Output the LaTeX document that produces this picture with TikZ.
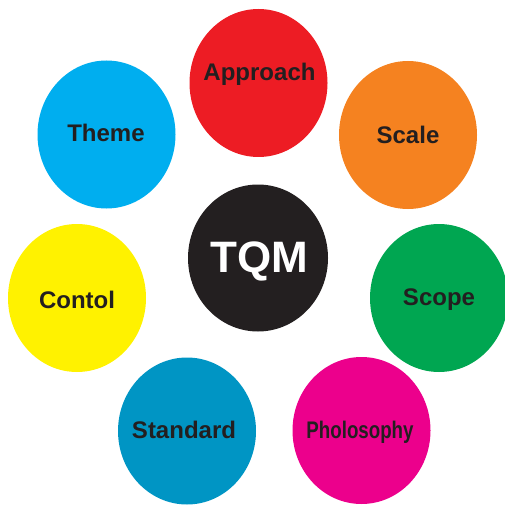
\documentclass[tikz,border=0pt]{standalone}
\usepackage{fontspec}
\setmainfont{Liberation Sans}
\usetikzlibrary{shapes.geometric}
\definecolor{cred}{HTML}{ED1C24}
\definecolor{corange}{HTML}{F58220}
\definecolor{ccyan}{HTML}{00AEEF}
\definecolor{cyel}{HTML}{FFF200}
\definecolor{cgreen}{HTML}{00A651}
\definecolor{cteal}{HTML}{0095C4}
\definecolor{cmag}{HTML}{EC008C}
\definecolor{cblack}{HTML}{231F20}
\tikzset{
  blob/.style={ellipse, draw=none, inner sep=0pt, minimum width=138pt, minimum height=148pt},
  lbl/.style={anchor=base, inner sep=0pt, text=cblack, font=\fontsize{24}{24}\selectfont\bfseries},
}
\begin{document}
\begin{tikzpicture}[x=1pt,y=1pt]
\useasboundingbox (0,0) rectangle (505,504);
\node[blob, fill=cred]    (approach) at (258.5,421) {};
\node[blob, fill=corange] (scale)    at (408,369) {};
\node[blob, fill=ccyan]   (theme)    at (106.5,369.5) {};
\node[blob, fill=cblack, minimum width=140pt, minimum height=147pt] (tqm) at (258,246) {};
\node[blob, fill=cyel]    (contol)   at (77,206) {};
\node[blob, fill=cgreen]  (scope)    at (439,206) {};
\node[blob, fill=cteal, minimum height=147pt] (standard) at (187,73) {};
\node[blob, fill=cmag, minimum height=147pt]  (philo)    at (361.5,73.5) {};
\node[lbl] (approachT) at (259.5,423) {Approach};
\node[lbl] (scaleT)    at (408,360) {Scale};
\node[lbl] (themeT)    at (106,362) {Theme};
\node[lbl] (contolT)   at (77,196) {Contol};
\node[lbl] (scopeT)    at (439,199) {Scope};
\node[lbl] (standardT) at (184,66) {Standard};
\node[lbl] (philoT)    at (360,66) {\scalebox{0.78}[1]{Pholosophy}};
\node[lbl, text=white, font=\fontsize{44}{44}\selectfont\bfseries] (tqmT) at (259,232) {TQM};
\end{tikzpicture}
\end{document}
